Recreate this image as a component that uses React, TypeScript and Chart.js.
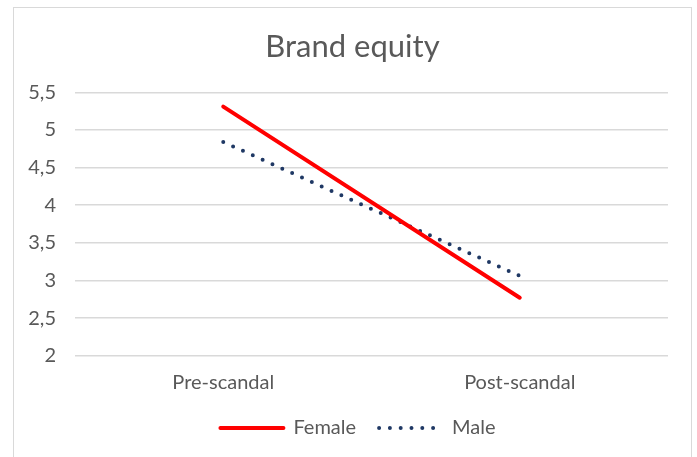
import React, { useEffect, useRef } from "react";
import { Chart, registerables } from "chart.js";

Chart.register(...registerables);

const categories = ["Pre-scandal", "Post-scandal"];
const femaleValues = [5.31, 2.77];
const maleValues = [4.84, 3.06];
const yTicks = [2, 2.5, 3, 3.5, 4, 4.5, 5, 5.5];

const FONT = "Lato, 'Open Sans', sans-serif";
const TEXT = "#595959";

export default function App() {
  const ref = useRef<HTMLCanvasElement | null>(null);

  useEffect(() => {
    if (!ref.current) return;
    const legendShift = {
      id: "legendShift",
      afterLayout(chart: any) {
        const l = chart.legend;
        if (l) {
          l.left += 5.5;
          l.right += 5.5;
        }
      },
    };
    const chart = new Chart(ref.current, {
      type: "line",
      data: {
        labels: categories,
        datasets: [
          {
            label: "Female",
            data: femaleValues,
            borderColor: "#ff0000",
            backgroundColor: "#ff0000",
            borderWidth: 4,
            borderCapStyle: "round",
            pointRadius: 0,
            tension: 0,
          },
          {
            label: "Male",
            data: maleValues,
            borderColor: "#1f3864",
            backgroundColor: "#1f3864",
            borderWidth: 4,
            borderDash: [0, 10.8],
            borderCapStyle: "round",
            pointRadius: 0,
            tension: 0,
          },
        ],
      },
      options: {
        animation: false,
        responsive: false,
        maintainAspectRatio: false,
        layout: { padding: { left: 0, right: 0, top: 0, bottom: 9 } },
        plugins: {
          title: {
            display: true,
            text: "Brand equity",
            color: TEXT,
            font: { family: FONT, size: 31, weight: "normal", lineHeight: 1.2 },
            padding: { top: 20.4, bottom: 26.7 },
          },
          legend: {
            display: true,
            position: "bottom",
            labels: {
              usePointStyle: true,
              pointStyle: "line",
              pointStyleWidth: 63,
              padding: 23,
              color: TEXT,
              font: { family: FONT, size: 20 },
              generateLabels(chart: any) {
                const items = Chart.defaults.plugins.legend.labels.generateLabels(chart);
                return items.map((it: any) => {
                  const ds: any = chart.data.datasets[it.datasetIndex];
                  return {
                    ...it,
                    lineDash: ds.borderDash || [],
                    lineCap: ds.borderCapStyle || "butt",
                    lineWidth: ds.borderWidth,
                    strokeStyle: ds.borderColor,
                    pointStyle: "line",
                  };
                });
              },
            },
          },
          tooltip: { enabled: false },
        },
        scales: {
          x: {
            offset: true,
            grid: { display: false, drawTicks: false },
            border: { display: false },
            ticks: {
              color: TEXT,
              font: { family: FONT, size: 20, lineHeight: 1.2 },
              padding: 15,
              maxRotation: 0,
            },
            afterFit(scale: any) {
              scale.height = 39.3;
            },
          },
          y: {
            min: yTicks[0],
            max: yTicks[yTicks.length - 1],
            grid: { color: "#d9d9d9", lineWidth: 1.5, drawTicks: false },
            border: { display: false },
            ticks: {
              stepSize: 0.5,
              color: TEXT,
              padding: 19,
              font: { family: FONT, size: 20 },
              callback: (v: any) => String(v).replace(".", ","),
            },
            afterFit(scale: any) {
              scale.width = 61;
            },
          },
          yRight: {
            position: "right",
            display: true,
            grid: { display: false, drawTicks: false },
            border: { display: false },
            ticks: { display: false },
            afterFit(scale: any) {
              scale.width = 23;
            },
          },
        },
      },
      plugins: [legendShift],
    });
    return () => chart.destroy();
  }, []);

  return (
    <div
      style={{
        position: "absolute",
        left: 13,
        top: 7,
        width: 677,
        height: 449,
        border: "1px solid #d9d9d9",
        background: "#fff",
      }}
    >
      <canvas ref={ref} width={677} height={449} style={{ display: "block" }} />
    </div>
  );
}
